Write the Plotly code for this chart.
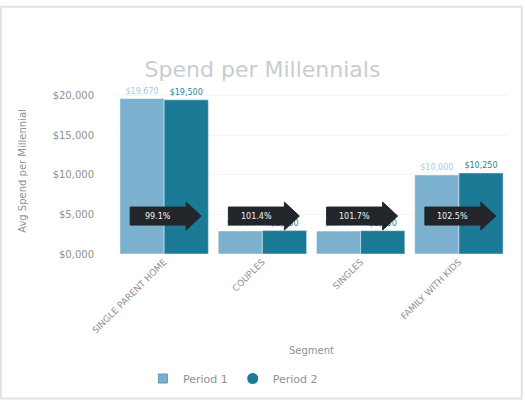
import plotly.graph_objects as go

# Average spend per millennial, by household segment, for two periods
segments = ["SINGLE PARENT HOME", "COUPLES", "SINGLES", "FAMILY WITH KIDS"]
period_1 = [19670, 2920, 2900, 10000]
period_2 = [19500, 2960, 2950, 10250]
series_names = ["Period 1", "Period 2"]
y_ticks = [0, 5000, 10000, 15000, 20000]
y_tick_labels = ["$0,000", "$5,000", "$10,000", "$15,000", "$20,000"]

colour_1 = "#7cb0cf"
colour_2 = "#1b7b97"
font_family = "DejaVu Sans"
grey = "#8d9297"

def money(v):
    return "${:,.0f}".format(v)

fig = go.Figure()
fig.add_trace(go.Bar(
    x=segments, y=period_1, name=series_names[0], showlegend=False,
    marker=dict(color=colour_1, line=dict(color="rgba(255,255,255,0.5)", width=1)),
    text=[money(v) for v in period_1], textposition="outside",
    textfont=dict(size=8, color="#a9cbe0"), cliponaxis=False,
))
fig.add_trace(go.Bar(
    x=segments, y=period_2, name=series_names[1], showlegend=False,
    marker=dict(color=colour_2),
    text=[money(v) for v in period_2], textposition="outside",
    textfont=dict(size=8, color="#2b7f98"), cliponaxis=False,
))

# Legend entries: square swatch for the first period, round one for the second
fig.add_trace(go.Scatter(x=[None], y=[None], mode="markers", name=series_names[0],
                         marker=dict(symbol="square", size=9, color=colour_1,
                                     line=dict(color="#5f97b8", width=1))))
fig.add_trace(go.Scatter(x=[None], y=[None], mode="markers", name=series_names[1],
                         marker=dict(symbol="circle", size=11, color=colour_2)))

# Block arrows carrying the period-over-period change
arrow_level = 4800
arrow_path = "M -34 -9 L 22 -9 L 22 -14 L 37 0 L 22 14 L 22 9 L -34 9 Z"
for seg, a, b in zip(segments, period_1, period_2):
    fig.add_shape(
        type="path", xref="x", yref="y", xsizemode="pixel", ysizemode="pixel",
        xanchor=seg, yanchor=arrow_level, path=arrow_path,
        fillcolor="#22262b", line=dict(color="#22262b", width=1), layer="above",
    )
    fig.add_annotation(
        x=seg, y=arrow_level, xref="x", yref="y", text="{:.1f}%".format(b / a * 100),
        showarrow=False, xshift=-6, font=dict(size=8, color="#f2f2f2", family=font_family),
    )

fig.update_layout(
    width=525, height=405,
    paper_bgcolor="white", plot_bgcolor="white",
    margin=dict(l=115, r=17, t=88, b=148),
    title=dict(text="Spend per Millennials", x=0.5, xanchor="center", y=0.83,
               yanchor="middle", font=dict(size=22, color="#c8cdd2", family=font_family)),
    font=dict(family=font_family, color=grey),
    barmode="group", bargap=0.1, bargroupgap=0.0,
    legend=dict(orientation="h", x=0.3, xanchor="center", y=-0.75, yanchor="middle",
                font=dict(size=11, color=grey), itemwidth=30),
    showlegend=True,
)
fig.update_xaxes(
    title=dict(text="Segment", font=dict(size=10, color=grey), standoff=12),
    tickangle=-45, tickfont=dict(size=9, color=grey),
    showgrid=False, showline=False, ticks="",
)
fig.update_yaxes(
    title=dict(text="Avg Spend per Millennial", font=dict(size=10, color=grey), standoff=24),
    range=[0, 21000], tickvals=y_ticks, ticktext=y_tick_labels,
    tickfont=dict(size=10, color=grey), ticklabelstandoff=20,
    showgrid=True, gridcolor="#f4f5f6", zeroline=False,
)

# Thin light frame around the whole card
fig.add_shape(type="rect", xref="paper", yref="paper",
              x0=-0.29, x1=1.035, y0=-0.87, y1=1.49,
              line=dict(color="#e2e4e6", width=2), fillcolor="rgba(0,0,0,0)", layer="below")

fig.write_html("out.html")
